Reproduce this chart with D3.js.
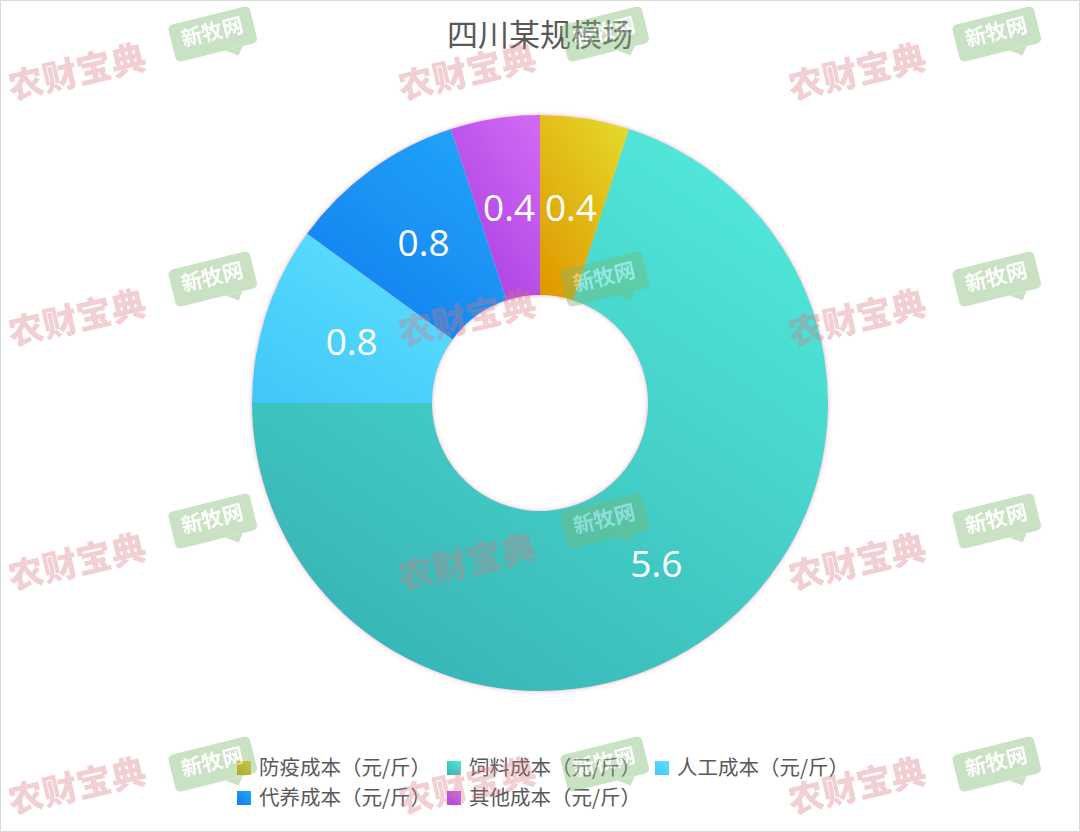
<!DOCTYPE html>
<html><head><meta charset="utf-8">
<script src="https://cdn.jsdelivr.net/npm/d3@7"></script>
<style>body{margin:0;background:#fff}svg{display:block}</style>
</head><body>
<script>
const title = "四川某规模场";
const categories = ["防疫成本（元/斤）","饲料成本（元/斤）","人工成本（元/斤）","代养成本（元/斤）","其他成本（元/斤）"];
const values = [0.4, 5.6, 0.8, 0.8, 0.4];
const labels = ["0.4","5.6","0.8","0.8","0.4"];
const colorsLight = ["#e4d82a","#52eadb","#5ee0ff","#22a4fa","#d068f4"];
const colorsDark  = ["#e09a00","#36b2b4","#42c8f8","#127eee","#a83ee0"];

const W=1080,H=832;
const svg=d3.select("body").append("svg").attr("width",W).attr("height",H);
svg.append("rect").attr("x",0.5).attr("y",0.5).attr("width",W-1).attr("height",H-1)
  .attr("fill","#fff").attr("stroke","#d9d9d9");

const cx=540, cy=403, rOut=288, rIn=108;
const defs=svg.append("defs");
categories.forEach((c,i)=>{
  const g=defs.append("linearGradient").attr("id","g"+i).attr("x1",0.85).attr("y1",0).attr("x2",0.15).attr("y2",1);
  g.append("stop").attr("offset",0).attr("stop-color",colorsLight[i]);
  g.append("stop").attr("offset",1).attr("stop-color",colorsDark[i]);
  const g2=defs.append("linearGradient").attr("id","lg"+i).attr("x1",1).attr("y1",0).attr("x2",0).attr("y2",1);
  g2.append("stop").attr("offset",0).attr("stop-color",colorsLight[i]);
  g2.append("stop").attr("offset",1).attr("stop-color",colorsDark[i]);
});
const flt=defs.append("filter").attr("id","glow").attr("x","-10%").attr("y","-10%").attr("width","120%").attr("height","120%");
flt.append("feGaussianBlur").attr("in","SourceAlpha").attr("stdDeviation",2).attr("result","b");
flt.append("feFlood").attr("flood-color","#e08aa8").attr("flood-opacity",0.7);
flt.append("feComposite").attr("in2","b").attr("operator","in").attr("result","s");
const fm=flt.append("feMerge"); fm.append("feMergeNode").attr("in","s"); fm.append("feMergeNode").attr("in","SourceGraphic");

svg.append("text").attr("x",540).attr("y",35).attr("dy","0.36em").attr("text-anchor","middle")
  .attr("font-family","'Noto Sans CJK SC'").attr("font-size",31).attr("fill","#595959").text(title);

const pie=d3.pie().sort(null).value(d=>d)(values);
const arc=d3.arc().innerRadius(rIn).outerRadius(rOut);
const lab=d3.arc().innerRadius((rIn+rOut)/2).outerRadius((rIn+rOut)/2);
const ga=svg.append("g").attr("filter","url(#glow)").attr("transform",`translate(${cx},${cy})`);
ga.selectAll("path").data(pie).join("path")
  .attr("d",arc).attr("fill",(d,i)=>`url(#g${i})`);

svg.append("g").selectAll("text").data(pie).join("text")
  .attr("transform",d=>{const p=lab.centroid(d);return `translate(${cx+p[0]},${cy+p[1]})`;})
  .attr("text-anchor","middle").attr("dy","0.36em")
  .attr("font-family","'Open Sans','Noto Sans',sans-serif").attr("font-size",37).attr("fill","#fff")
  .text((d,i)=>labels[i]);

// legend
const legPos=[[237,768],[447,768],[655,768],[237,798],[447,798]];
const lg=svg.append("g");
categories.forEach((c,i)=>{
  const [x,y]=legPos[i];
  lg.append("rect").attr("x",x).attr("y",y-7).attr("width",14).attr("height",14).attr("fill",`url(#lg${i})`);
  lg.append("text").attr("x",x+22).attr("y",y).attr("dy","0.36em")
    .attr("font-family","'Noto Sans CJK SC'").attr("font-size",20.5).attr("fill","#595959").text(c);
});

// watermarks
const wm=svg.append("g").attr("pointer-events","none");
const rowsY=[72,318,562,786], colsX=[77,467,857];
rowsY.forEach(y=>colsX.forEach(x=>{
  wm.append("text").attr("transform",`translate(${x},${y}) rotate(-13)`).attr("text-anchor","middle").attr("dy","0.36em")
    .attr("font-family","'Noto Sans CJK SC'").attr("font-weight",900).attr("font-size",35)
    .attr("fill","#d9777f").attr("opacity",0.35).text("农财宝典");
}));
const bY=[35,280,522,765], bX=[213,605,997];
bY.forEach(y=>bX.forEach(x=>{
  const g=wm.append("g").attr("transform",`translate(${x},${y}) rotate(-14)`).attr("opacity",0.4);
  g.append("rect").attr("x",-42).attr("y",-20).attr("width",84).attr("height",38).attr("rx",5).attr("fill","#7cb86e");
  g.append("path").attr("d","M8,18 L26,18 L20,26 Z").attr("fill","#7cb86e");
  g.append("text").attr("text-anchor","middle").attr("dy","0.3em").attr("y",-2)
    .attr("font-family","'Noto Sans CJK SC'").attr("font-weight",700).attr("font-size",21).attr("fill","#fff").text("新牧网");
}));
</script>
</body></html>
